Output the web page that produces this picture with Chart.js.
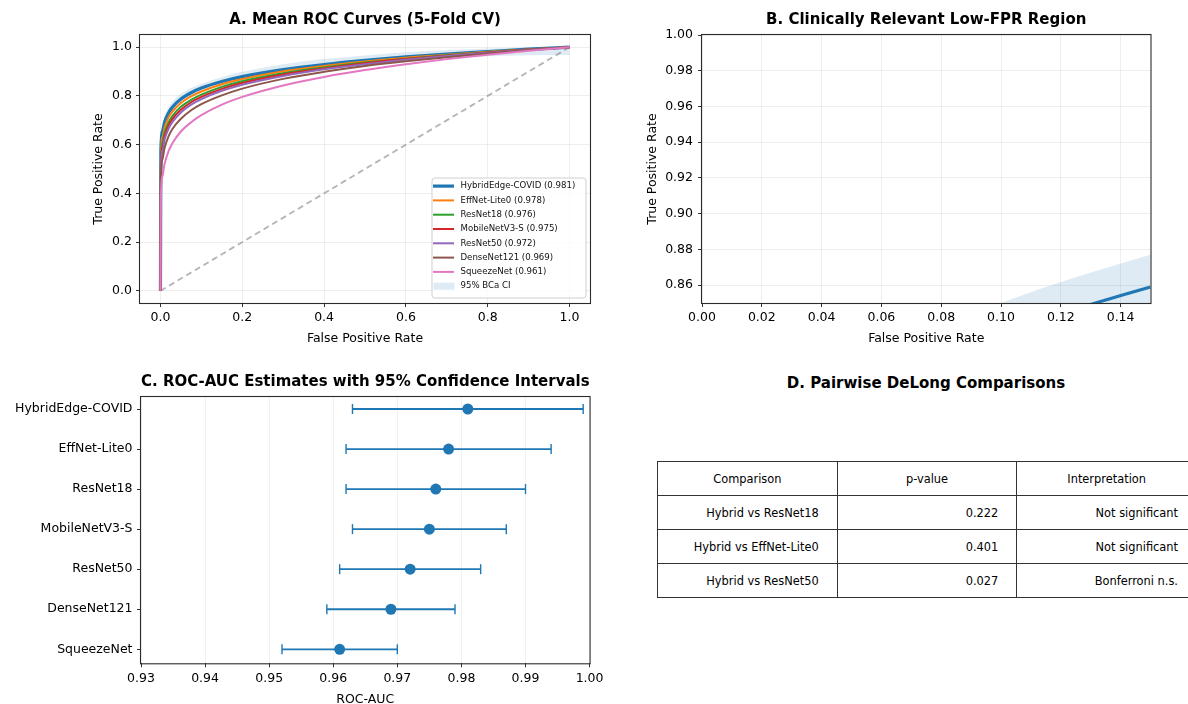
<!DOCTYPE html>
<html>
<head>
<meta charset="utf-8">
<script src="https://cdn.jsdelivr.net/npm/chart.js@4.4.1/dist/chart.umd.min.js"></script>
<style>
html,body{margin:0;padding:0;background:#fff;overflow:hidden;width:1188px;height:704px;}
canvas{position:absolute;display:block;}
#titleD{position:absolute;left:702px;width:448px;top:373.5px;text-align:center;font:bold 15px "DejaVu Sans",sans-serif;color:#000;line-height:18px;white-space:nowrap;}
#tableD{position:absolute;left:657px;top:461px;border-collapse:collapse;font:11.4px "DejaVu Sans",sans-serif;color:#000;table-layout:fixed;width:540px;}
#tableD td{border:1px solid #333;height:34px;padding:0 18px;box-sizing:border-box;text-align:right;white-space:nowrap;}
#tableD tr.hdr td{text-align:center;}
</style>
</head>
<body>
<canvas id="cA" width="600" height="350" style="left:0;top:0"></canvas>
<canvas id="cB" width="588" height="350" style="left:600px;top:0"></canvas>
<canvas id="cC" width="607" height="352" style="left:0;top:360px"></canvas>
<div id="titleD">D. Pairwise DeLong Comparisons</div>
<table id="tableD"></table>
<script>
// ---------------- data ----------------
const modelNames = ['HybridEdge-COVID','EffNet-Lite0','ResNet18','MobileNetV3-S','ResNet50','DenseNet121','SqueezeNet'];
const aucMean   = [0.981, 0.978, 0.976, 0.975, 0.972, 0.969, 0.961];
const aucCiLow  = [0.963, 0.962, 0.962, 0.963, 0.961, 0.959, 0.952];
const aucCiHigh = [0.999, 0.994, 0.990, 0.987, 0.983, 0.979, 0.970];
const modelColors = ['#1f77b4','#ff7f0e','#2ca02c','#d62728','#9467bd','#8c564b','#e377c2'];

const fprGrid      = [0, 0.001, 0.005, 0.01, 0.02, 0.03, 0.05, 0.075, 0.1, 0.15, 0.2, 0.3, 0.4, 0.5, 0.6, 0.7, 0.8, 0.9, 1.0];
const tprHybrid    = [0, 0.575, 0.655, 0.692, 0.731, 0.755, 0.787, 0.813, 0.832, 0.859, 0.879, 0.908, 0.929, 0.946, 0.960, 0.972, 0.982, 0.992, 1.0];
const tprEffNet    = [0, 0.548, 0.631, 0.670, 0.712, 0.737, 0.771, 0.798, 0.818, 0.848, 0.869, 0.901, 0.923, 0.941, 0.957, 0.969, 0.981, 0.991, 1.0];
const tprResNet18  = [0, 0.522, 0.608, 0.649, 0.692, 0.719, 0.755, 0.784, 0.805, 0.837, 0.860, 0.893, 0.917, 0.937, 0.953, 0.967, 0.979, 0.990, 1.0];
const tprMobileNet = [0, 0.505, 0.592, 0.634, 0.679, 0.707, 0.743, 0.774, 0.796, 0.829, 0.853, 0.888, 0.913, 0.934, 0.951, 0.965, 0.978, 0.990, 1.0];
const tprResNet50  = [0, 0.488, 0.576, 0.620, 0.666, 0.694, 0.732, 0.764, 0.787, 0.821, 0.846, 0.882, 0.909, 0.930, 0.948, 0.964, 0.977, 0.989, 1.0];
const tprDenseNet  = [0, 0.449, 0.541, 0.586, 0.635, 0.666, 0.706, 0.741, 0.766, 0.802, 0.830, 0.870, 0.899, 0.923, 0.942, 0.959, 0.974, 0.988, 1.0];
const tprSqueeze   = [0, 0.375, 0.471, 0.520, 0.574, 0.608, 0.654, 0.692, 0.721, 0.764, 0.796, 0.843, 0.878, 0.906, 0.930, 0.951, 0.969, 0.985, 1.0];
const ciUpper      = [0, 0.605, 0.680, 0.715, 0.755, 0.778, 0.808, 0.832, 0.850, 0.877, 0.899, 0.930, 0.951, 0.966, 0.979, 0.988, 0.995, 0.999, 1.0];
const ciLower      = [0, 0.550, 0.635, 0.674, 0.712, 0.737, 0.770, 0.797, 0.816, 0.841, 0.861, 0.890, 0.912, 0.930, 0.945, 0.955, 0.963, 0.967, 0.968];
const ciLabel = '95% BCa CI';

const ticksA  = [0, 0.2, 0.4, 0.6, 0.8, 1.0];
const ticksBx = [0, 0.02, 0.04, 0.06, 0.08, 0.10, 0.12, 0.14];
const ticksBy = [0.86, 0.88, 0.90, 0.92, 0.94, 0.96, 0.98, 1.00];
const ticksCx = [0.93, 0.94, 0.95, 0.96, 0.97, 0.98, 0.99, 1.00];
const ticksCy = [0, 1, 2, 3, 4, 5, 6];

const tableHeader = ['Comparison', 'p-value', 'Interpretation'];
const delongComparisons = ['Hybrid vs ResNet18', 'Hybrid vs EffNet-Lite0', 'Hybrid vs ResNet50'];
const delongP = [0.222, 0.401, 0.027];
const delongInterp = ['Not significant', 'Not significant', 'Bonferroni n.s.'];

const tprCurves = [tprHybrid, tprEffNet, tprResNet18, tprMobileNet, tprResNet50, tprDenseNet, tprSqueeze];

// ---------------- setup ----------------
Chart.defaults.font.family = "'DejaVu Sans', sans-serif";
Chart.defaults.font.size = 12.5;
Chart.defaults.font.lineHeight = 1.2;
Chart.defaults.color = '#000';
Chart.defaults.animation = false;
Chart.defaults.events = [];

const bandColor = 'rgba(31,119,180,0.15)';
const gridStyle = {color:'rgba(0,0,0,0.085)', lineWidth:0.8, tickColor:'#333', tickLength:4, tickWidth:1, drawTicks:true};
const fixedTicks = arr => (s) => { s.ticks = arr.map(v => ({value: v})); };
const titleFont = {size:15, weight:'bold', lineHeight:1.2};

const frame = {
  id:'frame',
  afterDatasetsDraw(chart){
    const {ctx, chartArea:ca} = chart;
    ctx.save();
    ctx.strokeStyle = '#2b2b2b';
    ctx.lineWidth = 1.1;
    ctx.strokeRect(ca.left - 0.5, ca.top - 0.5, ca.right - ca.left + 1, ca.bottom - ca.top + 1);
    ctx.restore();
  }
};

const legendA = {
  id:'legendA',
  afterDraw(chart){
    const {ctx, chartArea:ca} = chart;
    const entries = modelNames.map((n,i) => ({label: n + ' (' + aucMean[i].toFixed(3) + ')', color: modelColors[i], width: i === 0 ? 3.2 : 2}));
    entries.push({label: ciLabel, color: bandColor, patch: true});
    const w = 154, h = 120;
    const x0 = ca.right - 4.5 - w, y0 = ca.bottom - 5.5 - h;
    ctx.save();
    ctx.beginPath();
    ctx.roundRect(x0 + 0.5, y0 + 0.5, w, h, 3);
    ctx.fillStyle = 'rgba(255,255,255,0.8)';
    ctx.fill();
    ctx.strokeStyle = '#cfcfcf';
    ctx.lineWidth = 1;
    ctx.stroke();
    ctx.font = "8.6px 'DejaVu Sans', sans-serif";
    ctx.textBaseline = 'middle';
    ctx.textAlign = 'left';
    entries.forEach((e, i) => {
      const y = y0 + 8.6 + i * 14.3;
      if (e.patch) {
        ctx.fillStyle = e.color;
        ctx.fillRect(x0 + 2, y - 3.5, 21, 7);
      } else {
        ctx.strokeStyle = e.color;
        ctx.lineWidth = e.width;
        ctx.beginPath();
        ctx.moveTo(x0 + 1.5, y);
        ctx.lineTo(x0 + 22.5, y);
        ctx.stroke();
      }
      ctx.fillStyle = '#111';
      ctx.fillText(e.label, x0 + 29, y);
    });
    ctx.restore();
  }
};

function rocDatasets(){
  const toPts = arr => fprGrid.map((f, i) => ({x: f, y: arr[i]}));
  const ds = [];
  ds.push({label:'ciUpper', data:toPts(ciUpper), borderWidth:0, borderColor:'rgba(0,0,0,0)', pointRadius:0,
           fill:'+1', backgroundColor:bandColor, order:100, cubicInterpolationMode:'monotone', clip:0});
  ds.push({label:'ciLower', data:toPts(ciLower), borderWidth:0, borderColor:'rgba(0,0,0,0)', pointRadius:0,
           fill:false, order:99, cubicInterpolationMode:'monotone', clip:0});
  tprCurves.forEach((arr, i) => {
    ds.push({label:modelNames[i], data:toPts(arr), borderColor:modelColors[i], borderWidth: i === 0 ? 3.2 : 2,
             pointRadius:0, fill:false, order:20 - i, cubicInterpolationMode:'monotone', clip:0,
             borderCapStyle:'butt', borderJoinStyle:'round'});
  });
  ds.push({label:'chance', data:[{x:0, y:0}, {x:1, y:1}], borderColor:'rgba(128,128,128,0.6)', borderDash:[6,4],
           borderWidth:1.8, pointRadius:0, fill:false, order:50, tension:0, clip:0});
  return ds;
}

// ---------------- Panel A ----------------
new Chart(document.getElementById('cA'), {
  type:'line',
  data:{datasets:rocDatasets()},
  options:{
    responsive:false,
    layout:{padding:{left:87, right:10, top:0, bottom:0}},
    plugins:{
      legend:{display:false}, tooltip:{enabled:false},
      title:{display:true, text:'A. Mean ROC Curves (5-Fold CV)', fullSize:false, font:titleFont, color:'#000', padding:{top:11.5, bottom:5.5}}
    },
    scales:{
      x:{type:'linear', min:-0.05, max:1.05, afterBuildTicks:fixedTicks(ticksA), afterFit:s => { s.height = 47; },
         grid:gridStyle, border:{display:false},
         ticks:{padding:3.5, maxRotation:0, autoSkip:false, callback:v => v.toFixed(1)},
         title:{display:true, text:'False Positive Rate', padding:{top:4, bottom:4}}},
      y:{type:'linear', min:-0.05, max:1.05, afterBuildTicks:fixedTicks(ticksA), afterFit:s => { s.width = 53; },
         grid:gridStyle, border:{display:false},
         ticks:{padding:4, autoSkip:false, callback:v => v.toFixed(1)},
         title:{display:true, text:'True Positive Rate', padding:{top:4, bottom:4}}}
    }
  },
  plugins:[frame, legendA]
});

// ---------------- Panel B ----------------
new Chart(document.getElementById('cB'), {
  type:'line',
  data:{datasets:rocDatasets()},
  options:{
    responsive:false,
    layout:{padding:{left:41, right:37.5, top:0, bottom:0}},
    plugins:{
      legend:{display:false}, tooltip:{enabled:false},
      title:{display:true, text:'B. Clinically Relevant Low-FPR Region', fullSize:false, font:titleFont, color:'#000', padding:{top:11.5, bottom:5.5}}
    },
    scales:{
      x:{type:'linear', min:0, max:0.15, afterBuildTicks:fixedTicks(ticksBx), afterFit:s => { s.height = 47; },
         grid:gridStyle, border:{display:false},
         ticks:{padding:3.5, maxRotation:0, autoSkip:false, callback:v => v.toFixed(2)},
         title:{display:true, text:'False Positive Rate', padding:{top:4, bottom:4}}},
      y:{type:'linear', min:0.85, max:1.0, afterBuildTicks:fixedTicks(ticksBy), afterFit:s => { s.width = 61; },
         grid:gridStyle, border:{display:false},
         ticks:{padding:5, autoSkip:false, callback:v => v.toFixed(2)},
         title:{display:true, text:'True Positive Rate', padding:{top:4, bottom:4}}}
    }
  },
  plugins:[frame]
});

// ---------------- Panel C ----------------
const errDatasets = modelNames.map((n, i) => ({
  label:n + ' CI',
  data:[{x:aucCiLow[i], y:i}, {x:aucCiHigh[i], y:i}],
  showLine:true, borderColor:'#1f77b4', borderWidth:1.8, fill:false, tension:0,
  pointStyle:'line', pointRadius:5, pointRotation:90, pointBorderColor:'#1f77b4', pointBorderWidth:1.4,
  order:2, clip:false
}));
const pointDataset = {
  label:'ROC-AUC',
  data:modelNames.map((n, i) => ({x:aucMean[i], y:i})),
  showLine:false, pointStyle:'circle', pointRadius:5.5, pointBackgroundColor:'#1f77b4',
  pointBorderColor:'#1f77b4', pointBorderWidth:0, order:0, clip:false
};
new Chart(document.getElementById('cC'), {
  type:'line',
  data:{datasets:[...errDatasets, pointDataset]},
  options:{
    responsive:false,
    layout:{padding:{left:0, right:0, top:0, bottom:0}},
    plugins:{
      legend:{display:false}, tooltip:{enabled:false},
      title:{display:true, text:'C. ROC-AUC Estimates with 95% Confidence Intervals', fullSize:false, font:titleFont, color:'#000', padding:{top:13.5, bottom:5.5}}
    },
    scales:{
      x:{type:'linear', min:0.93, max:1.0, afterBuildTicks:fixedTicks(ticksCx), afterFit:s => { s.height = 48.7; },
         grid:{...gridStyle, color:'rgba(0,0,0,0.07)'}, border:{display:false},
         ticks:{padding:3.5, maxRotation:0, autoSkip:false, callback:v => v.toFixed(2)},
         title:{display:true, text:'ROC-AUC', padding:{top:4, bottom:4.5}}},
      y:{type:'linear', min:-0.3, max:6.35, reverse:true, afterBuildTicks:fixedTicks(ticksCy), afterFit:s => { s.width = 141; },
         grid:{...gridStyle, color:'rgba(0,0,0,0)'}, border:{display:false},
         ticks:{padding:4.5, autoSkip:false, callback:v => modelNames[v]}}
    }
  },
  plugins:[frame]
});

// ---------------- Panel D (table) ----------------
const tbl = document.getElementById('tableD');
const hdr = document.createElement('tr');
hdr.className = 'hdr';
tableHeader.forEach(t => { const td = document.createElement('td'); td.textContent = t; hdr.appendChild(td); });
tbl.appendChild(hdr);
delongComparisons.forEach((c, i) => {
  const tr = document.createElement('tr');
  [c, delongP[i].toFixed(3), delongInterp[i]].forEach(t => { const td = document.createElement('td'); td.textContent = t; tr.appendChild(td); });
  tbl.appendChild(tr);
});
</script>
</body>
</html>
